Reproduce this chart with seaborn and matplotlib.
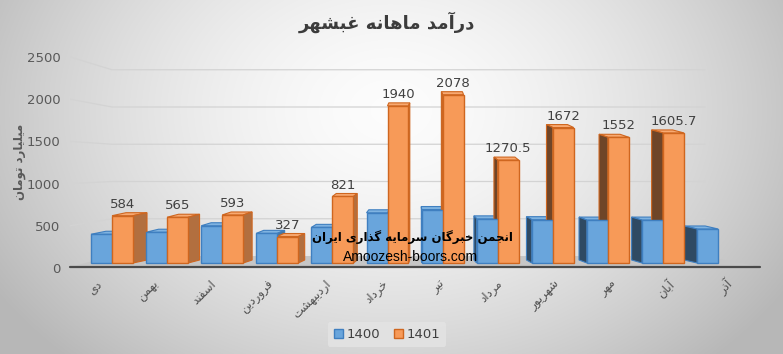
import numpy as np
import pandas as pd
import seaborn as sns
import matplotlib
matplotlib.use('Agg')
import matplotlib.pyplot as plt
import matplotlib.colors as mcolors
from matplotlib.patches import Polygon
from matplotlib.transforms import ScaledTranslation

# data
MONTHS = ['دی', 'بهمن', 'اسفند', 'فروردین', 'اردیبهشت', 'خرداد',
          'تیر', 'مرداد', 'شهریور', 'مهر', 'آبان', 'آذر']
YEARS = ['1400', '1401']
VALUES_1400 = [355, 380, 460, 366, 440, 620, 660, 545, 535, 530, 530, 420]
VALUES_1401 = [584, 565, 593, 327, 821, 1940, 2078, 1270.5, 1672, 1552, 1605.7, np.nan]
Y_TICKS = [0, 500, 1000, 1500, 2000, 2500]

TITLE = 'درآمد ماهانه غبشهر'
Y_LABEL = 'میلیارد تومان'
MARK_FA = 'انجمن خبرگان سرمایه گذاری ایران'
MARK_EN = 'Amoozesh-boors.com'

FACE = ['#69a5dc', '#f79a58']
EDGE = ['#3f7fc0', '#cf661f']

# --- tiny Persian shaper: contextual forms + visual (reversed) order ---
FORMS = {
    'ا': ('\uFE8D', '\uFE8E', None, None), 'آ': ('\uFE81', '\uFE82', None, None),
    'ب': ('\uFE8F', '\uFE90', '\uFE91', '\uFE92'), 'ت': ('\uFE95', '\uFE96', '\uFE97', '\uFE98'),
    'ج': ('\uFE9D', '\uFE9E', '\uFE9F', '\uFEA0'), 'خ': ('\uFEA5', '\uFEA6', '\uFEA7', '\uFEA8'),
    'د': ('\uFEA9', '\uFEAA', None, None), 'ذ': ('\uFEAB', '\uFEAC', None, None),
    'ر': ('\uFEAD', '\uFEAE', None, None), 'ز': ('\uFEAF', '\uFEB0', None, None),
    'س': ('\uFEB1', '\uFEB2', '\uFEB3', '\uFEB4'), 'ش': ('\uFEB5', '\uFEB6', '\uFEB7', '\uFEB8'),
    'غ': ('\uFECD', '\uFECE', '\uFECF', '\uFED0'), 'ف': ('\uFED1', '\uFED2', '\uFED3', '\uFED4'),
    'ل': ('\uFEDD', '\uFEDE', '\uFEDF', '\uFEE0'), 'م': ('\uFEE1', '\uFEE2', '\uFEE3', '\uFEE4'),
    'ن': ('\uFEE5', '\uFEE6', '\uFEE7', '\uFEE8'), 'ه': ('\uFEE9', '\uFEEA', '\uFEEB', '\uFEEC'),
    'و': ('\uFEED', '\uFEEE', None, None), 'ی': ('\uFBFC', '\uFBFD', '\uFBFE', '\uFBFF'),
    'گ': ('\uFB92', '\uFB93', '\uFB94', '\uFB95'),
}


def fa(text):
    out = []
    for i, c in enumerate(text):
        if c not in FORMS:
            out.append(c)
            continue
        iso, fin, ini, med = FORMS[c]
        prev = text[i - 1] if i > 0 else None
        nxt = text[i + 1] if i + 1 < len(text) else None
        jp = prev in FORMS and FORMS[prev][2] is not None
        jn = ini is not None and nxt in FORMS
        out.append(med if jp and jn else fin if jp else ini if jn else iso)
    return ''.join(reversed(out))


def shade(color, f):
    r, g, b = mcolors.to_rgb(color)
    if f < 1:
        return (r * f, g * f, b * f)
    f -= 1
    return (r + (1 - r) * f, g + (1 - g) * f, b + (1 - b) * f)


# pixel geometry of the fake 3D scene (figure is 783x354 px)
W, H = 783, 354
PX_X0, PX_DX = 112, 55.1      # pixel x of category 0, pixels per category
PX_Y0, PX_DY = 263, 0.081     # pixel y of value 0, pixels per unit


def to_data(px, py):
    return (px - PX_X0) / PX_DX, (PX_Y0 - py) / PX_DY


df = pd.DataFrame({
    'month': MONTHS * 2,
    'year': [YEARS[0]] * len(MONTHS) + [YEARS[1]] * len(MONTHS),
    'value': VALUES_1400 + VALUES_1401,
})

sns.set_theme(style='white')
plt.rcParams['font.family'] = ['DejaVu Sans']

fig = plt.figure(figsize=(W / 100, H / 100), dpi=100)

# background gradient
bg = fig.add_axes([0, 0, 1, 1], zorder=-5)
yy, xx = np.mgrid[0:H, 0:W]
r = np.sqrt(((xx - 390) / 430.0) ** 2 + ((yy - 110) / 320.0) ** 2)
g = np.clip(0.99 - 0.24 * r ** 1.6, 0.72, 1)
bg.imshow(np.dstack([g, g, g]), aspect='auto', extent=(0, 1, 0, 1))
bg.axis('off')

# tick-label axis on the left wall
wall = fig.add_axes([70 / W, (H - 268) / H, 0.05, 211 / H], zorder=0)
wall.set_ylim(0, 2500)
wall.set_yticks(Y_TICKS)
wall.set_xticks([])
wall.patch.set_visible(False)
for s in wall.spines.values():
    s.set_visible(False)
wall.tick_params(axis='y', length=0, pad=7, labelsize=9.5, labelcolor='#595959')

# main axes
ax = fig.add_axes([70 / W, (H - 270) / H, 690 / W, 215 / H], zorder=1)
ax.patch.set_visible(False)
x_lo, y_lo = to_data(70, 270)
x_hi, y_hi = to_data(760, 55)

sns.barplot(data=df, x='month', y='value', hue='year', order=MONTHS,
            hue_order=YEARS, palette=FACE, width=0.762, saturation=1,
            ax=ax, zorder=3)

for cont, ec in zip(ax.containers, EDGE):
    for p in cont.patches:
        p.set_edgecolor(ec)
        p.set_linewidth(1)

# floor + back-wall gridlines
floor = [to_data(70, 267), to_data(760, 267), to_data(705, 256), to_data(112, 256)]
ax.add_patch(Polygon(floor, closed=True, fc='#c6c6c6', ec='none', zorder=0.5))
fx0, fy = to_data(70, 267)
fx1, _ = to_data(760, 267)
ax.plot([fx0, fx1], [fy, fy], color='#4a4a4a', lw=1.6, zorder=4, clip_on=False)
for v in Y_TICKS[1:]:
    sx, sy = to_data(70, 268 - 0.0844 * v)
    bx, by = to_data(112, 256 - 0.0745 * v)
    ex, _ = to_data(705, 0)
    ax.plot([sx, bx, ex], [sy, by, by], color='#d3d3d3', lw=0.9, zorder=0.6)

# side and top faces for the 3D look
dy = 3 / PX_DY
for cont, fc, ec in zip(ax.containers, FACE, EDGE):
    for p in cont.patches:
        h = p.get_height()
        if not np.isfinite(h):
            continue
        x0, w = p.get_x(), p.get_width()
        xc = x0 + w / 2
        dx = 0.263 - 0.0461 * xc
        top = [(x0, h), (x0 + w, h), (x0 + w + dx, h + dy), (x0 + dx, h + dy)]
        ax.add_patch(Polygon(top, closed=True, fc=shade(fc, 1.15), ec=ec, lw=0.8, zorder=2))
        if dx > 0:
            side = [(x0 + w, 0), (x0 + w, h), (x0 + w + dx, h + dy), (x0 + w + dx, dy)]
            col = shade(fc, 0.72)
        else:
            side = [(x0, 0), (x0, h), (x0 + dx, h + dy), (x0 + dx, dy)]
            col = shade(fc, 0.45)
        ax.add_patch(Polygon(side, closed=True, fc=col, ec=ec, lw=0.8, zorder=2))

# value labels on the 1401 bars
lab_cont = ax.containers[1]
labels = ['' if not np.isfinite(v) else f'{v:g}' for v in lab_cont.datavalues]
ax.bar_label(lab_cont, labels=labels, padding=3.5, fontsize=9.5, color='#404040')

ax.set_xlim(x_lo, x_hi)
ax.set_ylim(y_lo, y_hi)
ax.set_xlabel('')
ax.set_ylabel('')
ax.set_xticks([])
ax.set_yticks([])
for s in ax.spines.values():
    s.set_visible(False)

# rotated month labels along the front edge of the floor
_, y_lab = to_data(0, 282)
for i, m in enumerate(MONTHS):
    off = ((PX_X0 + PX_DX * i) - 426) * 0.04
    ax.text(i, y_lab, fa(m), rotation=45, rotation_mode='anchor', ha='right',
            va='center', fontsize=8.5, color='#505050', clip_on=False,
            transform=ax.transData + ScaledTranslation(off / 100, 0, fig.dpi_scale_trans))

# legend
handles, labs = ax.get_legend_handles_labels()
if ax.get_legend() is not None:
    ax.get_legend().remove()
leg = fig.legend(handles, labs, loc='center', bbox_to_anchor=(387 / W, 1 - 334.5 / H),
                 ncol=2, frameon=True, facecolor='#e4e4e4', edgecolor='none',
                 fontsize=9.5, handlelength=0.7, handleheight=0.7, handletextpad=0.3,
                 columnspacing=1.0, borderpad=0.45, framealpha=0.8)
for hnd, fc, ec in zip(leg.legend_handles, FACE, EDGE):
    hnd.set_facecolor(fc)
    hnd.set_edgecolor(ec)
for t in leg.get_texts():
    t.set_color('#404040')

# titles and watermark
fig.text(387 / W, 1 - 22 / H, fa(TITLE), ha='center', va='center',
         fontsize=13, fontweight='bold', color='#3c3c3c')
fig.text(20 / W, 1 - 162 / H, fa(Y_LABEL), rotation=90, ha='center', va='center',
         fontsize=8.5, fontweight='bold', color='#595959')
fig.text(412 / W, 1 - 237 / H, fa(MARK_FA), ha='center', va='center',
         fontsize=8.5, fontweight='bold', color='black', zorder=10)
fig.text(411 / W, 1 - 257 / H, MARK_EN, ha='center', va='center',
         fontsize=10, family=['Liberation Sans', 'DejaVu Sans'], color='black', zorder=10)

fig.savefig('out.png', dpi=100)
plt.close(fig)
